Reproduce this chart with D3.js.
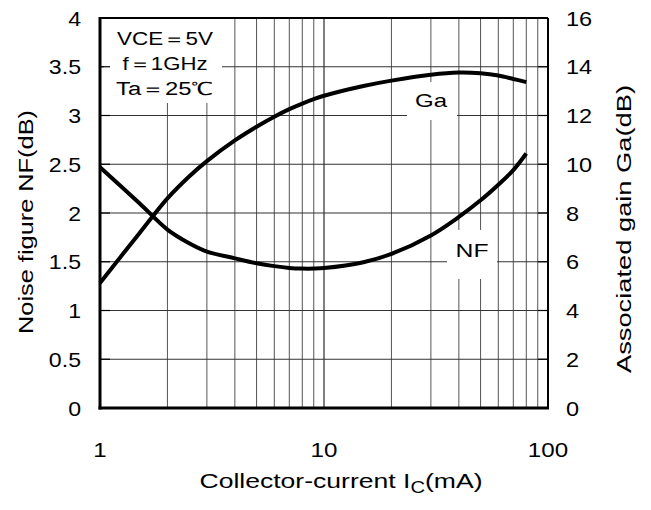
<!DOCTYPE html>
<html>
<head>
<meta charset="utf-8">
<script src="https://cdn.jsdelivr.net/npm/d3@7/dist/d3.min.js"></script>
<style>
  html, body { margin: 0; padding: 0; background: #fff; }
  svg { display: block; }
  text { font-family: Arial, "Liberation Sans", Helvetica, sans-serif; fill: #000; }
</style>
</head>
<body>
<svg id="chart" width="651" height="510"></svg>
<script>
// ---- data ----
const current  = [1, 1.5, 2, 2.5, 3, 4, 5, 6, 7, 8, 9, 10, 15, 20, 30, 40, 50, 60, 70, 80];
const nfValues = [2.47, 2.10, 1.83, 1.69, 1.605, 1.535, 1.485, 1.455, 1.437, 1.43, 1.43, 1.435, 1.495, 1.58, 1.77, 1.96, 2.13, 2.29, 2.44, 2.61];
const gaValues = [5.13, 7.17, 8.6, 9.5, 10.13, 10.98, 11.54, 11.95, 12.26, 12.49, 12.67, 12.81, 13.21, 13.43, 13.67, 13.76, 13.73, 13.64, 13.5, 13.37];
const xTickValues = [1, 10, 100];
const xMinorGrid = [2, 3, 4, 5, 6, 7, 8, 9, 20, 30, 40, 50, 60, 70, 80, 90];
const nfTicks = [0, 0.5, 1, 1.5, 2, 2.5, 3, 3.5, 4];
const gaTicks = [0, 2, 4, 6, 8, 10, 12, 14, 16];
const conditions = ["VCE\uFF1D5V", "f\uFF1D1GHz", "Ta\uFF1D25\u2103"];

// ---- layout ----
const L = 100, R = 548, T = 18, B = 408;
const svg = d3.select("#chart");
const x = d3.scaleLog().domain([1, 100]).range([L, R]);
const yL = d3.scaleLinear().domain([0, 4]).range([B, T]);
const yR = d3.scaleLinear().domain([0, 16]).range([B, T]);

function stretch(sel, k) {
  sel.each(function () {
    const w = this.getComputedTextLength();
    d3.select(this).attr("textLength", w * k).attr("lengthAdjust", "spacingAndGlyphs");
  });
}
function fitTo(sel, w) {
  sel.attr("textLength", w).attr("lengthAdjust", "spacingAndGlyphs");
}

// grid
const grid = svg.append("g");
grid.selectAll("line.vmin").data(xMinorGrid).join("line")
  .attr("x1", d => x(d)).attr("x2", d => x(d)).attr("y1", T).attr("y2", B)
  .attr("stroke", "#555").attr("stroke-width", 1);
grid.selectAll("line.vmaj").data(xTickValues).join("line")
  .attr("x1", d => x(d)).attr("x2", d => x(d)).attr("y1", T).attr("y2", B)
  .attr("stroke", "#000").attr("stroke-width", 1);
grid.selectAll("line.h").data(nfTicks).join("line")
  .attr("x1", L).attr("x2", R).attr("y1", d => yL(d)).attr("y2", d => yL(d))
  .attr("stroke", "#333").attr("stroke-width", 1);

// white label backgrounds
const boxes = [
  {x0: 104, x1: 222, y0: T + 1, y1: 103},
  {x0: 407, x1: 457, y0: 82, y1: 120},
  {x0: 447, x1: 497, y0: 230, y1: 279}
];
svg.selectAll("rect.bg").data(boxes).join("rect")
  .attr("x", d => d.x0).attr("y", d => d.y0)
  .attr("width", d => d.x1 - d.x0).attr("height", d => d.y1 - d.y0)
  .attr("fill", "#fff");

// inner ticks
svg.selectAll("line.tl").data(nfTicks).join("line")
  .attr("x1", L).attr("x2", L + 10).attr("y1", d => yL(d)).attr("y2", d => yL(d))
  .attr("stroke", "#000").attr("stroke-width", 1.2);
svg.selectAll("line.tr").data(gaTicks).join("line")
  .attr("x1", R - 10).attr("x2", R).attr("y1", d => yR(d)).attr("y2", d => yR(d))
  .attr("stroke", "#000").attr("stroke-width", 1.2);

// frame
svg.append("line").attr("x1", L).attr("x2", R).attr("y1", T).attr("y2", T).attr("stroke", "#000").attr("stroke-width", 2);
svg.append("line").attr("x1", R).attr("x2", R).attr("y1", T).attr("y2", B).attr("stroke", "#000").attr("stroke-width", 2);
svg.append("line").attr("x1", L).attr("x2", L).attr("y1", T - 1).attr("y2", B + 1.5).attr("stroke", "#000").attr("stroke-width", 3);
svg.append("line").attr("x1", L - 1.5).attr("x2", R + 1).attr("y1", B).attr("y2", B).attr("stroke", "#000").attr("stroke-width", 3);

// curves
const nfData = current.map((c, i) => ({c, v: nfValues[i]}));
const gaData = current.map((c, i) => ({c, v: gaValues[i]}));
const lineNF = d3.line().x(d => x(d.c)).y(d => yL(d.v)).curve(d3.curveCatmullRom.alpha(0.5));
const lineGA = d3.line().x(d => x(d.c)).y(d => yR(d.v)).curve(d3.curveCatmullRom.alpha(0.5));
svg.append("path").datum(nfData).attr("d", lineNF).attr("fill", "none").attr("stroke", "#000").attr("stroke-width", 4).attr("stroke-linejoin", "round");
svg.append("path").datum(gaData).attr("d", lineGA).attr("fill", "none").attr("stroke", "#000").attr("stroke-width", 4).attr("stroke-linejoin", "round");

// tick labels
const fs = 21;
const yl = svg.selectAll("text.yl").data(nfTicks).join("text")
  .attr("x", 81).attr("y", d => yL(d) + 7.5).attr("text-anchor", "end")
  .attr("font-size", fs).text(d => d);
const yr = svg.selectAll("text.yr").data(gaTicks).join("text")
  .attr("x", 566).attr("y", d => yR(d) + 7.5).attr("text-anchor", "start")
  .attr("font-size", fs).text(d => d);
const xtk = svg.selectAll("text.xt").data(xTickValues).join("text")
  .attr("x", d => x(d)).attr("y", 457).attr("text-anchor", "middle")
  .attr("font-size", fs).text(d => d);
stretch(yl, 1.1); stretch(yr, 1.12); stretch(xtk, 1.15);

// axis titles
const t1 = svg.append("text").attr("transform", "translate(33,222) rotate(-90)")
  .attr("text-anchor", "middle").attr("font-size", fs).text("Noise figure NF(dB)");
fitTo(t1, 224);
const t2 = svg.append("text").attr("transform", "translate(631,229) rotate(-90)")
  .attr("text-anchor", "middle").attr("font-size", fs).text("Associated gain Ga(dB)");
fitTo(t2, 288);
const xt = svg.append("text").attr("x", 341).attr("y", 488).attr("text-anchor", "middle").attr("font-size", fs);
xt.append("tspan").text("Collector-current I");
xt.append("tspan").attr("dy", 5).attr("font-size", 16).text("C");
xt.append("tspan").attr("dy", -5).text("(mA)");
fitTo(xt, 283);

// conditions
const condW = [96, 85, 98];
svg.selectAll("text.cond").data(conditions).join("text")
  .attr("x", 165).attr("y", (d, i) => 45 + i * 25).attr("text-anchor", "middle")
  .attr("font-size", 18).text(d => d)
  .attr("textLength", (d, i) => condW[i]).attr("lengthAdjust", "spacingAndGlyphs");

// curve labels
fitTo(svg.append("text").attr("x", 431).attr("y", 107).attr("text-anchor", "middle").attr("font-size", 19).text("Ga"), 32);
fitTo(svg.append("text").attr("x", 472).attr("y", 257).attr("text-anchor", "middle").attr("font-size", 19).text("NF"), 33);
</script>
</body>
</html>
